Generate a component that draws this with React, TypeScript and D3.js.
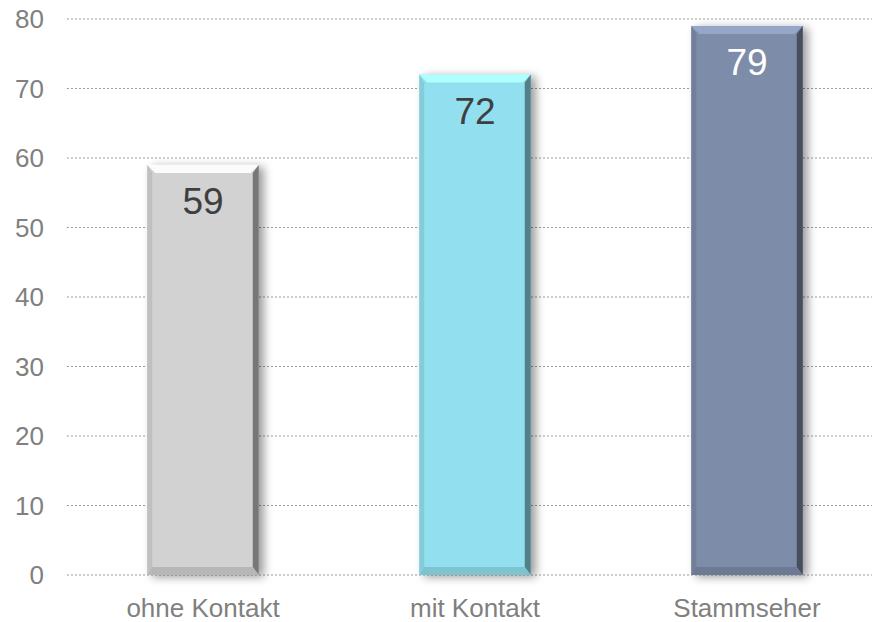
import React from "react";
import * as d3 from "d3";

const categories = ["ohne Kontakt", "mit Kontakt", "Stammseher"];
const values = [59, 72, 79];
const barColors = ["#d2d2d2", "#92e0ef", "#7d8ca8"];
const labelColors = ["#3f3f3f", "#3f3f3f", "#ffffff"];
const yTicks = [0, 10, 20, 30, 40, 50, 60, 70, 80];

const W = 877;
const H = 622;

const App = () => {
  const x = d3
    .scaleBand<string>()
    .domain(categories)
    .range([67, 883])
    .paddingInner(0.59)
    .paddingOuter(0.295);

  const y = d3.scaleLinear().domain([0, 80]).range([575, 19]);

  const bw = x.bandwidth();
  const bev = 8;

  return (
    <svg width={W} height={H} style={{ display: "block", position: "absolute", left: 0, top: 0 }}>
      <defs>
        <filter id="shadow" x="-20%" y="-10%" width="150%" height="120%">
          <feGaussianBlur in="SourceAlpha" stdDeviation="5" />
          <feOffset dx="5" dy="2" result="b" />
          <feComponentTransfer>
            <feFuncA type="linear" slope="0.4" />
          </feComponentTransfer>
          <feMerge>
            <feMergeNode />
            <feMergeNode in="SourceGraphic" />
          </feMerge>
        </filter>
      </defs>

      {/* gridlines */}
      {yTicks.map((t) => (
        <line
          key={t}
          x1={67}
          x2={872}
          y1={y(t)}
          y2={y(t)}
          stroke="#9a9a9a"
          strokeWidth={1}
          strokeDasharray="2,2"
        />
      ))}

      {/* y labels */}
      {yTicks.map((t) => (
        <text
          key={t}
          x={44}
          y={y(t)}
          dy="0.36em"
          textAnchor="end"
          fontFamily="Liberation Sans, Arial, sans-serif"
          fontSize={26}
          fill="#808080"
        >
          {t}
        </text>
      ))}

      {/* bars */}
      {categories.map((c, i) => {
        const x0 = x(c)!;
        const x1 = x0 + bw;
        const y0 = y(values[i]);
        const y1 = y(0);
        const base = d3.color(barColors[i])!;
        const light = d3.color(barColors[i])!.brighter(0.5).formatHex();
        const dark = d3.color(barColors[i])!.darker(1.6).formatHex();
        const mid = d3.color(barColors[i])!.darker(0.5).formatHex();
        return (
          <g key={c}>
            <rect x={x0} y={y0} width={bw} height={y1 - y0} fill={base.formatHex()} filter="url(#shadow)" />
            {/* top bevel */}
            <polygon
              points={`${x0},${y0} ${x1},${y0} ${x1 - bev},${y0 + bev} ${x0 + bev},${y0 + bev}`}
              fill={light}
            />
            {/* left bevel */}
            <polygon
              points={`${x0},${y0} ${x0 + bev - 3},${y0 + bev} ${x0 + bev - 3},${y1 - bev} ${x0},${y1}`}
              fill={mid}
              opacity={0.55}
            />
            {/* right bevel */}
            <polygon
              points={`${x1},${y0} ${x1 - bev + 2},${y0 + bev} ${x1 - bev + 2},${y1 - bev} ${x1},${y1}`}
              fill={dark}
            />
            {/* bottom bevel */}
            <polygon
              points={`${x0},${y1} ${x1},${y1} ${x1 - bev + 2},${y1 - bev} ${x0 + bev - 3},${y1 - bev}`}
              fill={mid}
              opacity={0.8}
            />
            <text
              x={x0 + bw / 2}
              y={y0 + 49}
              textAnchor="middle"
              fontFamily="Liberation Sans, Arial, sans-serif"
              fontSize={37}
              fill={labelColors[i]}
            >
              {values[i]}
            </text>
          </g>
        );
      })}

      {/* category labels */}
      {categories.map((c) => (
        <text
          key={c}
          x={x(c)! + bw / 2}
          y={617}
          textAnchor="middle"
          fontFamily="Liberation Sans, Arial, sans-serif"
          fontSize={26}
          fill="#808080"
        >
          {c}
        </text>
      ))}
    </svg>
  );
};

export default App;
